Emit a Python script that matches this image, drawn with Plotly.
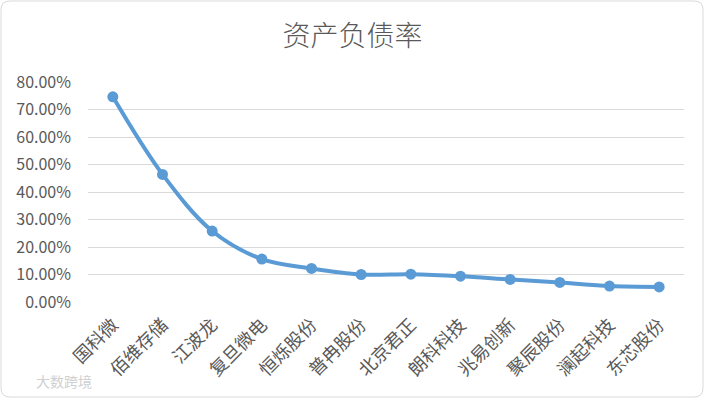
import plotly.graph_objects as go

categories = ["国科微", "佰维存储", "江波龙", "复旦微电", "恒烁股份", "普冉股份",
              "北京君正", "朗科科技", "兆易创新", "聚辰股份", "澜起科技", "东芯股份"]
debt_ratio = [0.746, 0.464, 0.258, 0.156, 0.122, 0.100,
              0.101, 0.094, 0.082, 0.071, 0.058, 0.055]
y_ticks = [0, 0.1, 0.2, 0.3, 0.4, 0.5, 0.6, 0.7, 0.8]
y_tick_labels = ["0.00%", "10.00%", "20.00%", "30.00%", "40.00%", "50.00%", "60.00%", "70.00%", "80.00%"]

W, H = 705, 399
L, R, T, B = 88, 21, 82, 97
pw, ph = W - L - R, H - T - B

def px(x):
    return (x - L) / pw

def py(y):
    return (H - B - y) / ph

font = "Noto Sans CJK SC, Microsoft YaHei, sans-serif"

fig = go.Figure()
fig.add_trace(go.Scatter(
    x=categories, y=debt_ratio, mode="lines+markers",
    line=dict(color="#5B9BD5", width=4, shape="spline", smoothing=1.0),
    marker=dict(color="#5B9BD5", size=11),
    hoverinfo="x+y",
))

# rounded border
x0, x1, y0, y1, r = 1, 703, 1, 397, 9
path = (f"M {px(x0+r)},{py(y0)} L {px(x1-r)},{py(y0)} Q {px(x1)},{py(y0)} {px(x1)},{py(y0+r)} "
        f"L {px(x1)},{py(y1-r)} Q {px(x1)},{py(y1)} {px(x1-r)},{py(y1)} "
        f"L {px(x0+r)},{py(y1)} Q {px(x0)},{py(y1)} {px(x0)},{py(y1-r)} "
        f"L {px(x0)},{py(y0+r)} Q {px(x0)},{py(y0)} {px(x0+r)},{py(y0)} Z")

fig.update_layout(
    width=W, height=H,
    margin=dict(l=L, r=R, t=T, b=B, autoexpand=False),
    paper_bgcolor="white", plot_bgcolor="white",
    showlegend=False,
    title=dict(text="资产负债率", x=0.5, xanchor="center", y=1 - 36 / H, yanchor="middle",
               font=dict(family=font, size=28, color="#595959", weight=300)),
    font=dict(family=font, color="#595959"),
    xaxis=dict(tickangle=-45, tickfont=dict(size=18, color="#595959"),
               ticklabelstandoff=8,
               showgrid=False, showline=False, ticks="", range=[-0.5, 11.5], automargin=False),
    yaxis=dict(range=[0, 0.8], tickvals=y_ticks, ticktext=y_tick_labels,
               tickfont=dict(size=16, color="#595959"), ticklabelstandoff=16,
               showgrid=True, gridcolor="#D9D9D9", gridwidth=1.3,
               zeroline=False, showline=False, ticks="", automargin=False),
    shapes=[dict(type="path", path=path, xref="paper", yref="paper",
                 line=dict(color="#D9D9D9", width=1), layer="below")],
    annotations=[dict(text="大数跨境", x=px(34), y=py(381), xref="paper", yref="paper",
                      xanchor="left", yanchor="middle", showarrow=False,
                      font=dict(family=font, size=14, color="#D0D0D0"))],
)

fig.write_html("out.html", config={"displayModeBar": False},
               post_script="document.body.style.margin='0';document.body.style.overflow='hidden';")
